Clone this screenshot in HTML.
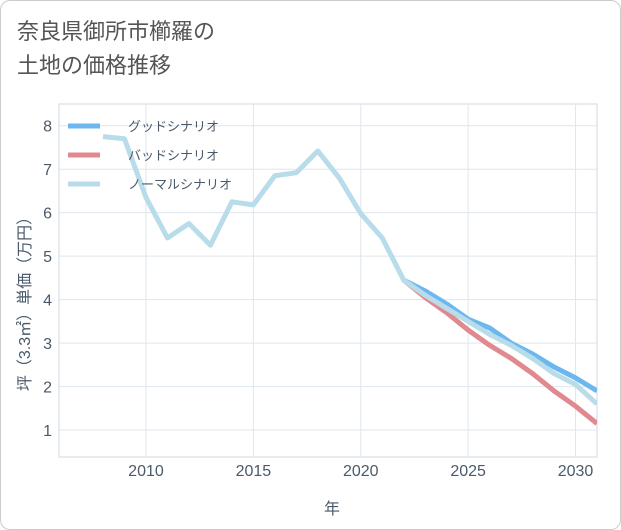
<!DOCTYPE html>
<html><head><meta charset="utf-8"><style>
body{margin:0;background:#fff;font-family:"Liberation Sans","Noto Sans CJK JP",sans-serif;}
#wrap{position:relative;width:619px;height:528px;border:1px solid #ccc;border-radius:10px;background:#fff;overflow:hidden}
#title{position:absolute;left:16px;top:14px;font-size:22px;line-height:34px;color:#555}
</style></head><body>
<div id="wrap">
<div id="title">奈良県御所市櫛羅の<br>土地の価格推移</div>
<svg id="chart" width="621" height="530" style="position:absolute;left:-1px;top:-1px"></svg>
</div>
<script>
const years=[2008,2009,2010,2011,2012,2013,2014,2015,2016,2017,2018,2019,2020,2021,2022,2023,2024,2025,2026,2027,2028,2029,2030,2031];
const normal=[7.75,7.7,6.35,5.42,5.75,5.25,6.25,6.18,6.85,6.92,7.42,6.8,5.98,5.42,4.45,4.1,3.8,3.5,3.2,2.95,2.65,2.3,2.05,1.6];
const futureYears=[2022,2023,2024,2025,2026,2027,2028,2029,2030,2031];
const good=[4.45,4.2,3.9,3.55,3.35,3.0,2.75,2.45,2.2,1.9];
const bad=[4.45,4.05,3.7,3.3,2.95,2.65,2.3,1.9,1.55,1.15];
const xTicks=[2010,2015,2020,2025,2030];
const yTicks=[1,2,3,4,5,6,7,8];
const NS="http://www.w3.org/2000/svg";
const svg=document.getElementById('chart');
const L=59,R=597,T=104,B=457;
const x=v=>L+(v-2005.95)/(2031-2005.95)*(R-L);
const y=v=>B-(v-0.38)/(8.5-0.38)*(B-T);
function el(t,a){const e=document.createElementNS(NS,t);for(const k in a)e.setAttribute(k,a[k]);svg.appendChild(e);return e;}
const bg=el('rect',{x:L,y:T,width:R-L,height:B-T,fill:'#fff',stroke:'#cfd8e0'});


xTicks.forEach(v=>{
 const g=el('line',{x1:x(v),x2:x(v),y1:T,y2:B,stroke:'#dfe6ee'});
 
 
 const t=el('text',{x:x(v),y:476,'font-size':16,fill:'#4a5a6a','text-anchor':'middle'});
 t.textContent=v;
 
 
});
yTicks.forEach(v=>{
 const g=el('line',{x1:L,x2:R,y1:y(v),y2:y(v),stroke:'#dfe6ee'});
 
 
 const t=el('text',{x:52,y:y(v)+6,'font-size':16,fill:'#4a5a6a','text-anchor':'end'});
 t.textContent=v;
 
 
});
const xt=el('text',{x:332,y:514,'font-size':16,fill:'#4a5a6a','text-anchor':'middle'});
xt.textContent='年';


const yt=el('text',{x:0,y:0,'font-size':16,fill:'#4a5a6a','text-anchor':'middle',transform:'translate(30,300) rotate(-90)'});
yt.textContent='坪（3.3㎡）単価（万円）';


const clip=el('clipPath',{id:'c'});
const cr=document.createElementNS(NS,'rect');cr.setAttribute('x',L);cr.setAttribute('y',T);cr.setAttribute('width',R-L);cr.setAttribute('height',B-T);clip.appendChild(cr);
function line(xs,ys,color,name){
 const p=el('polyline',{points:xs.map((v,i)=>x(v)+','+y(ys[i])).join(' '),fill:'none',stroke:color,'stroke-width':5,'stroke-linejoin':'round','clip-path':'url(#c)'});
 
 
}
line(futureYears,good,'#6cb8ee','good-scenario-line');
line(futureYears,bad,'#e08a90','bad-scenario-line');
line(years,normal,'#b8dcea','normal-scenario-line');
const leg=[['グッドシナリオ','#6cb8ee'],['バッドシナリオ','#e08a90'],['ノーマルシナリオ','#b8dcea']];
leg.forEach((d,i)=>{
 const yy=126+i*29;
 const l=el('line',{x1:68,x2:100,y1:yy,y2:yy,stroke:d[1],'stroke-width':5});
 
 
 const t=el('text',{x:128,y:yy+5,'font-size':13,fill:'#4a5a6a'});
 t.textContent=d[0];
 
 
});
</script>
</body></html>
